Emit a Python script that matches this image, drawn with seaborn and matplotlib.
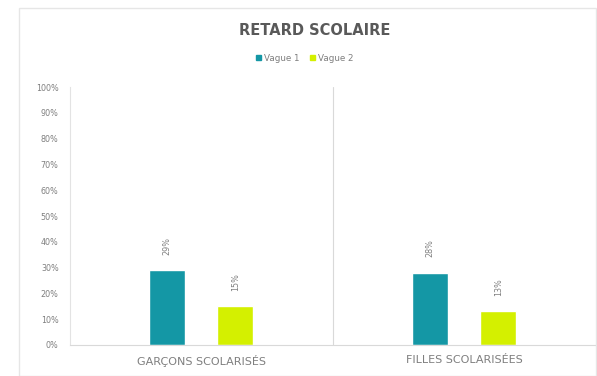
import pandas as pd
import matplotlib.pyplot as plt
import matplotlib.patches as mpatches
import seaborn as sns

# data
categories = ["GARÇONS SCOLARISÉS", "FILLES SCOLARISÉES"]
series = ["Vague 1", "Vague 2"]
vague1 = [29, 28]
vague2 = [15, 13]
colors = ["#1497a5", "#d4f000"]

df = pd.DataFrame({
        "Categorie": categories * 2,
        "Vague": [series[0]] * 2 + [series[1]] * 2,
        "Valeur": vague1 + vague2
})

sns.set_style("white")
plt.rcParams["font.family"] = ["DejaVu Sans"]

fig = plt.figure(figsize=(5.97, 3.76), dpi=100)
ax = fig.add_axes([0.117, 0.083, 0.881, 0.685])

sns.barplot(data=df, x="Categorie", y="Valeur", hue="Vague",
            palette=colors, width=0.517, gap=0.47, legend=False, ax=ax,
            saturation=1)

ax.set_ylim(0, 100)
ax.set_xlim(-0.5, 1.5)
ax.set_yticks(range(0, 101, 10))
ax.set_yticklabels([f"{v}%" for v in range(0, 101, 10)], fontsize=5.8, color="#7f7f7f")
ax.set_xticks([0, 1])
ax.set_xticklabels(categories, fontsize=8, color="#7f7f7f")
ax.tick_params(axis="y", length=0, pad=8)
ax.tick_params(axis="x", length=0, pad=7)
ax.set_xlabel("")
ax.set_ylabel("")

for s in ["top", "right"]:
    ax.spines[s].set_visible(False)
ax.spines["left"].set_color("#e3e3e3")
ax.spines["bottom"].set_color("#d9d9d9")
ax.spines["left"].set_linewidth(0.8)
ax.spines["bottom"].set_linewidth(0.8)
ax.axvline(0.5, color="#d9d9d9", lw=0.8)

for c in ax.containers:
    ax.bar_label(c, labels=[f"{v:.0f}%" for v in c.datavalues], rotation=90,
                 fontsize=5.8, color="#7f7f7f", padding=11)

fig.text(0.527, 0.92, "RETARD SCOLAIRE", ha="center", va="center",
         fontsize=10.5, fontweight="bold", color="#595959")
handles = [mpatches.Patch(color=colors[i], label=series[i]) for i in range(2)]
fig.legend(handles=handles, loc="center", bbox_to_anchor=(0.51, 0.845), ncol=2,
           frameon=False, fontsize=6.3, handlelength=0.6, handleheight=0.6,
           handletextpad=0.3, columnspacing=1.2, labelcolor="#7f7f7f")

border = mpatches.Rectangle((0.032, 0.0), 0.966, 0.978, transform=fig.transFigure,
                            fill=False, edgecolor="#e6e6e6", lw=1)
fig.patches.append(border)

fig.savefig("out.png", dpi=100)
